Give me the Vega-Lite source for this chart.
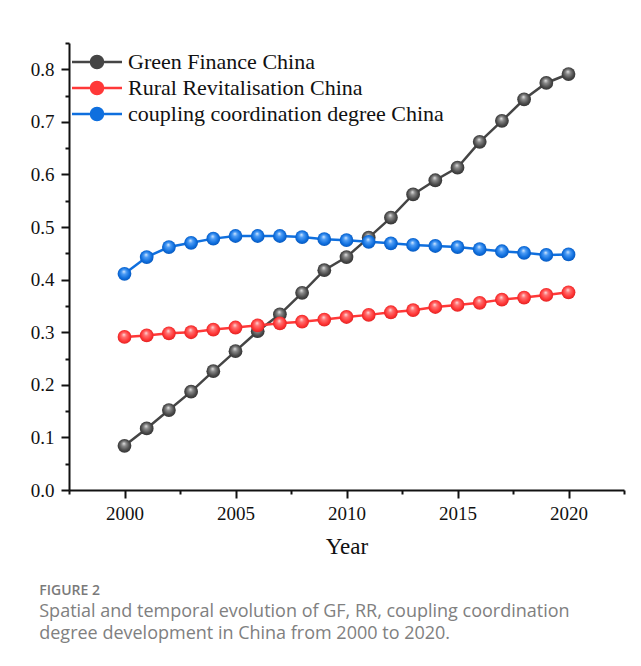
{
  "$schema": "https://vega.github.io/schema/vega-lite/v6.json",
  "width": 555,
  "height": 447,
  "padding": {"left": 30, "top": 34, "right": 17, "bottom": 10},
  "background": "white",
  "title": {
    "text": "FIGURE 2",
    "subtitle": ["Spatial and temporal evolution of GF, RR, coupling coordination", "degree development in China from 2000 to 2020."],
    "orient": "bottom",
    "anchor": "start",
    "frame": "bounds",
    "offset": 26,
    "dx": 9,
    "font": "Open Sans",
    "fontSize": 14,
    "fontWeight": 600,
    "color": "#7a7a7a",
    "subtitleFont": "Open Sans",
    "subtitleFontSize": 18,
    "subtitleColor": "#808080",
    "subtitlePadding": 5,
    "subtitleLineHeight": 22
  },
  "datasets": {
    "series": [
      {"year": 2000, "series": "Green Finance China", "value": 0.084},
      {"year": 2001, "series": "Green Finance China", "value": 0.117},
      {"year": 2002, "series": "Green Finance China", "value": 0.152},
      {"year": 2003, "series": "Green Finance China", "value": 0.187},
      {"year": 2004, "series": "Green Finance China", "value": 0.226},
      {"year": 2005, "series": "Green Finance China", "value": 0.264},
      {"year": 2006, "series": "Green Finance China", "value": 0.302},
      {"year": 2007, "series": "Green Finance China", "value": 0.334},
      {"year": 2008, "series": "Green Finance China", "value": 0.375},
      {"year": 2009, "series": "Green Finance China", "value": 0.418},
      {"year": 2010, "series": "Green Finance China", "value": 0.443},
      {"year": 2011, "series": "Green Finance China", "value": 0.480},
      {"year": 2012, "series": "Green Finance China", "value": 0.518},
      {"year": 2013, "series": "Green Finance China", "value": 0.562},
      {"year": 2014, "series": "Green Finance China", "value": 0.589},
      {"year": 2015, "series": "Green Finance China", "value": 0.613},
      {"year": 2016, "series": "Green Finance China", "value": 0.662},
      {"year": 2017, "series": "Green Finance China", "value": 0.702},
      {"year": 2018, "series": "Green Finance China", "value": 0.743},
      {"year": 2019, "series": "Green Finance China", "value": 0.774},
      {"year": 2020, "series": "Green Finance China", "value": 0.791},
      {"year": 2000, "series": "Rural Revitalisation China", "value": 0.291},
      {"year": 2001, "series": "Rural Revitalisation China", "value": 0.294},
      {"year": 2002, "series": "Rural Revitalisation China", "value": 0.298},
      {"year": 2003, "series": "Rural Revitalisation China", "value": 0.300},
      {"year": 2004, "series": "Rural Revitalisation China", "value": 0.305},
      {"year": 2005, "series": "Rural Revitalisation China", "value": 0.309},
      {"year": 2006, "series": "Rural Revitalisation China", "value": 0.313},
      {"year": 2007, "series": "Rural Revitalisation China", "value": 0.317},
      {"year": 2008, "series": "Rural Revitalisation China", "value": 0.320},
      {"year": 2009, "series": "Rural Revitalisation China", "value": 0.324},
      {"year": 2010, "series": "Rural Revitalisation China", "value": 0.329},
      {"year": 2011, "series": "Rural Revitalisation China", "value": 0.333},
      {"year": 2012, "series": "Rural Revitalisation China", "value": 0.338},
      {"year": 2013, "series": "Rural Revitalisation China", "value": 0.342},
      {"year": 2014, "series": "Rural Revitalisation China", "value": 0.348},
      {"year": 2015, "series": "Rural Revitalisation China", "value": 0.352},
      {"year": 2016, "series": "Rural Revitalisation China", "value": 0.356},
      {"year": 2017, "series": "Rural Revitalisation China", "value": 0.362},
      {"year": 2018, "series": "Rural Revitalisation China", "value": 0.366},
      {"year": 2019, "series": "Rural Revitalisation China", "value": 0.371},
      {"year": 2020, "series": "Rural Revitalisation China", "value": 0.376},
      {"year": 2000, "series": "coupling coordination degree China", "value": 0.411},
      {"year": 2001, "series": "coupling coordination degree China", "value": 0.443},
      {"year": 2002, "series": "coupling coordination degree China", "value": 0.462},
      {"year": 2003, "series": "coupling coordination degree China", "value": 0.470},
      {"year": 2004, "series": "coupling coordination degree China", "value": 0.478},
      {"year": 2005, "series": "coupling coordination degree China", "value": 0.483},
      {"year": 2006, "series": "coupling coordination degree China", "value": 0.483},
      {"year": 2007, "series": "coupling coordination degree China", "value": 0.483},
      {"year": 2008, "series": "coupling coordination degree China", "value": 0.481},
      {"year": 2009, "series": "coupling coordination degree China", "value": 0.477},
      {"year": 2010, "series": "coupling coordination degree China", "value": 0.475},
      {"year": 2011, "series": "coupling coordination degree China", "value": 0.472},
      {"year": 2012, "series": "coupling coordination degree China", "value": 0.469},
      {"year": 2013, "series": "coupling coordination degree China", "value": 0.466},
      {"year": 2014, "series": "coupling coordination degree China", "value": 0.464},
      {"year": 2015, "series": "coupling coordination degree China", "value": 0.462},
      {"year": 2016, "series": "coupling coordination degree China", "value": 0.458},
      {"year": 2017, "series": "coupling coordination degree China", "value": 0.454},
      {"year": 2018, "series": "coupling coordination degree China", "value": 0.451},
      {"year": 2019, "series": "coupling coordination degree China", "value": 0.447},
      {"year": 2020, "series": "coupling coordination degree China", "value": 0.448}
    ]
  },
  "data": {"name": "series"},
  "encoding": {
    "x": {
      "field": "year",
      "type": "quantitative",
      "scale": {"domain": [1997.5, 2022.5], "nice": false, "zero": false},
      "axis": {
        "title": "Year",
        "values": [1997.5, 2000, 2002.5, 2005, 2007.5, 2010, 2012.5, 2015, 2017.5, 2020, 2022.5],
        "labelExpr": "datum.value % 5 === 0 ? format(datum.value, 'd') : ''",
        "tickSize": {"condition": {"test": "datum.value % 5 === 0", "value": 8}, "value": 4},
        "labelPadding": 6,
        "titlePadding": 12,
        "titleFontSize": 23
      }
    },
    "y": {
      "field": "value",
      "type": "quantitative",
      "scale": {"domain": [0, 0.85], "nice": false},
      "axis": {
        "title": null,
        "values": [0, 0.05, 0.1, 0.15, 0.2, 0.25, 0.3, 0.35, 0.4, 0.45, 0.5, 0.55, 0.6, 0.65, 0.7, 0.75, 0.8, 0.85],
        "labelExpr": "round(datum.value * 100) % 10 === 0 ? format(datum.value, '.1f') : ''",
        "tickSize": {"condition": {"test": "round(datum.value * 100) % 10 === 0", "value": 8}, "value": 4},
        "labelPadding": 7
      }
    }
  },
  "layer": [
    {
      "transform": [{"filter": "datum.series === 'Green Finance China'"}],
      "mark": {"type": "line", "strokeWidth": 2.5},
      "encoding": {"color": {"field": "series", "type": "nominal", "sort": null,
        "scale": {"domain": ["Green Finance China", "Rural Revitalisation China", "coupling coordination degree China"], "range": ["#454545", "#ff3838", "#0f6fde"]},
        "legend": {"title": null, "encode": {"symbols": {"update": {"fill": {"scale": "color", "field": "value"}, "stroke": {"scale": "color", "field": "value"}}}}}}}
    },
    {
      "transform": [{"filter": "datum.series === 'Green Finance China'"}],
      "mark": {"type": "point", "filled": true, "size": 190, "opacity": 1, "strokeWidth": 0,
        "fill": {"gradient": "radial", "x1": 0.45, "y1": 0.32, "r1": 0, "x2": 0.5, "y2": 0.5, "r2": 0.55,
          "stops": [{"offset": 0, "color": "#e6e6e6"}, {"offset": 0.3, "color": "#8a8a8a"}, {"offset": 0.7, "color": "#4a4a4a"}, {"offset": 1, "color": "#2e2e2e"}]}}
    },
    {
      "transform": [{"filter": "datum.series === 'Rural Revitalisation China'"}],
      "mark": {"type": "line", "strokeWidth": 2.5},
      "encoding": {"color": {"field": "series", "type": "nominal", "sort": null}}
    },
    {
      "transform": [{"filter": "datum.series === 'Rural Revitalisation China'"}],
      "mark": {"type": "point", "filled": true, "size": 190, "opacity": 1, "strokeWidth": 0,
        "fill": {"gradient": "radial", "x1": 0.45, "y1": 0.32, "r1": 0, "x2": 0.5, "y2": 0.5, "r2": 0.55,
          "stops": [{"offset": 0, "color": "#ffe0e0"}, {"offset": 0.3, "color": "#ff7070"}, {"offset": 0.7, "color": "#ff3535"}, {"offset": 1, "color": "#d91e1e"}]}}
    },
    {
      "transform": [{"filter": "datum.series === 'coupling coordination degree China'"}],
      "mark": {"type": "line", "strokeWidth": 2.5},
      "encoding": {"color": {"field": "series", "type": "nominal", "sort": null}}
    },
    {
      "transform": [{"filter": "datum.series === 'coupling coordination degree China'"}],
      "mark": {"type": "point", "filled": true, "size": 190, "opacity": 1, "strokeWidth": 0,
        "fill": {"gradient": "radial", "x1": 0.45, "y1": 0.32, "r1": 0, "x2": 0.5, "y2": 0.5, "r2": 0.55,
          "stops": [{"offset": 0, "color": "#d8ebff"}, {"offset": 0.3, "color": "#4d9cf5"}, {"offset": 0.7, "color": "#0f6fde"}, {"offset": 1, "color": "#0552b5"}]}}
    }
  ],
  "config": {
    "view": {"stroke": null},
    "axis": {
      "grid": false,
      "domainColor": "#111111",
      "domainWidth": 2,
      "tickColor": "#111111",
      "tickWidth": 2,
      "labelFont": "Liberation Serif",
      "labelFontSize": 19,
      "labelColor": "#111111",
      "labelOverlap": false,
      "labelFlush": false,
      "titleFont": "Liberation Serif",
      "titleFontWeight": "normal",
      "titleColor": "#111111"
    },
    "legend": {
      "orient": "none",
      "legendX": 17,
      "legendY": 8,
      "padding": 0,
      "symbolType": "M -3.57 0 L -0.86 0 M 0.86 0 L 3.57 0 M -0.86 0 A 0.86 0.86 0 1 0 0.86 0 A 0.86 0.86 0 1 0 -0.86 0 Z",
      "symbolSize": 196,
      "symbolStrokeWidth": 2.5,
      "symbolOpacity": 1,
      "labelFont": "Liberation Serif",
      "labelFontSize": 22,
      "labelColor": "#111111",
      "labelOffset": 20,
      "labelLimit": 500,
      "rowPadding": 2
    }
  }
}
